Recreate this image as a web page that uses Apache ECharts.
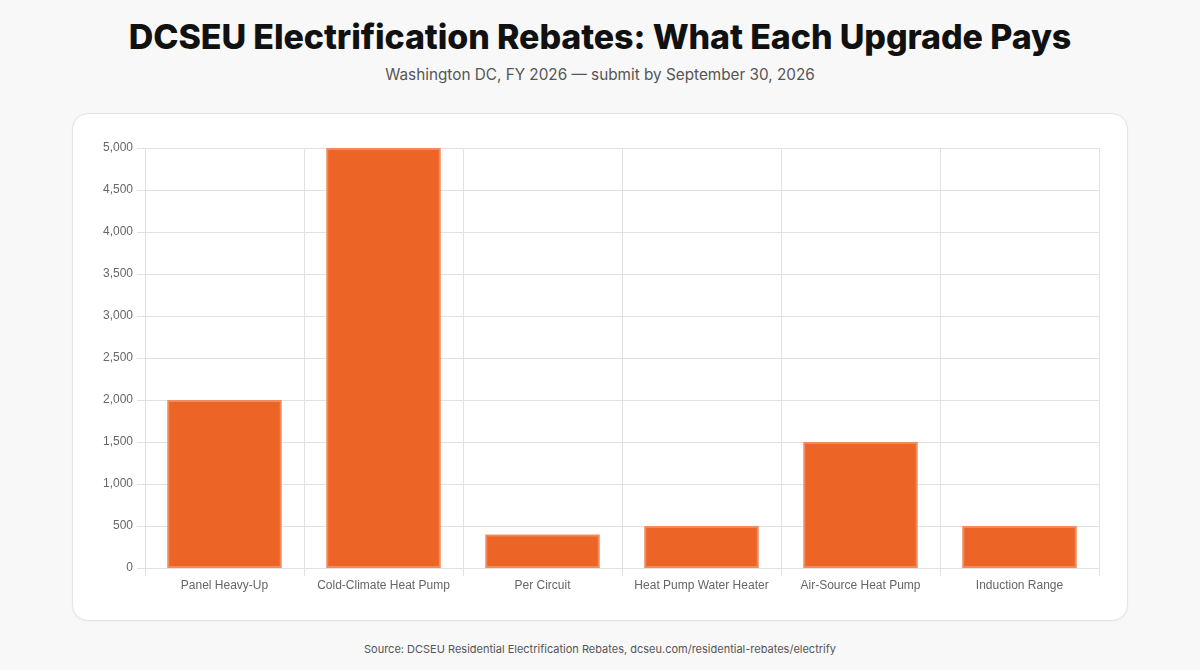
<!DOCTYPE html>
<html lang="en">
<head>
    <meta charset="UTF-8">
    <title>DCSEU Electrification Rebates</title>
    <script src="https://cdn.jsdelivr.net/npm/echarts@6/dist/echarts.min.js"></script>
    <style>
        html, body {
            margin: 0;
            padding: 0;
            background-color: #f8f8f8;
            font-family: Inter, "Noto Sans", sans-serif;
        }
        .page {
            width: 1200px;
            height: 670px;
            position: relative;
        }
        h1 {
            position: absolute;
            top: 16px;
            left: 0;
            width: 100%;
            margin: 0;
            text-align: center;
            font-size: 34px;
            font-weight: 800;
            color: #111;
            letter-spacing: -0.1px;
        }
        .subtitle {
            position: absolute;
            top: 65px;
            left: 0;
            width: 100%;
            text-align: center;
            font-size: 15.3px;
            color: #555;
        }
        .card {
            position: absolute;
            left: 72px;
            top: 113px;
            width: 1054px;
            height: 506px;
            background: #fff;
            border: 1px solid #e3e3e3;
            border-radius: 16px;
            box-shadow: 0 1px 3px rgba(0, 0, 0, 0.04);
        }
        #chart {
            width: 1054px;
            height: 506px;
        }
        .source {
            position: absolute;
            top: 642px;
            left: 0;
            width: 100%;
            text-align: center;
            font-size: 11px;
            color: #555;
        }
    </style>
</head>
<body>
<div class="page">
    <h1>DCSEU Electrification Rebates: What Each Upgrade Pays</h1>
    <div class="subtitle">Washington DC, FY 2026 — submit by September 30, 2026</div>
    <div class="card"><div id="chart"></div></div>
    <div class="source">Source: DCSEU Residential Electrification Rebates, dcseu.com/residential-rebates/electrify</div>
</div>

<script>
    var upgrades = ['Panel Heavy-Up', 'Cold-Climate Heat Pump', 'Per Circuit', 'Heat Pump Water Heater', 'Air-Source Heat Pump', 'Induction Range'];
    var rebates = [2000, 5000, 400, 500, 1500, 500];

    var myChart = echarts.init(document.getElementById('chart'));

    var gridColor = '#e2e2e2';
    var labelFont = { color: '#666', fontSize: 12, fontFamily: '"Liberation Sans", Arial, sans-serif' };

    var option = {
        animation: false,
        grid: { left: 72, top: 34, right: 28, bottom: 52 },
        xAxis: {
            type: 'category',
            data: upgrades,
            axisLine: { lineStyle: { color: gridColor } },
            axisTick: { show: true, length: 8, lineStyle: { color: gridColor } },
            axisLabel: Object.assign({ margin: 12, interval: 0 }, labelFont),
            splitLine: { show: true, interval: 0, lineStyle: { color: gridColor } }
        },
        yAxis: {
            type: 'value',
            min: 0,
            max: 5000,
            interval: 500,
            axisLine: { show: true, lineStyle: { color: gridColor } },
            axisTick: { show: true, length: 8, lineStyle: { color: gridColor } },
            axisLabel: Object.assign({ margin: 12, formatter: function (v) { return v.toLocaleString('en-US'); } }, labelFont),
            splitLine: { show: true, lineStyle: { color: gridColor } }
        },
        series: [{
            type: 'bar',
            data: rebates,
            barWidth: '72%',
            itemStyle: {
                color: '#EC6527',
                borderColor: '#F28B5C',
                borderWidth: 2
            }
        }]
    };

    myChart.setOption(option);
</script>
</body>
</html>
